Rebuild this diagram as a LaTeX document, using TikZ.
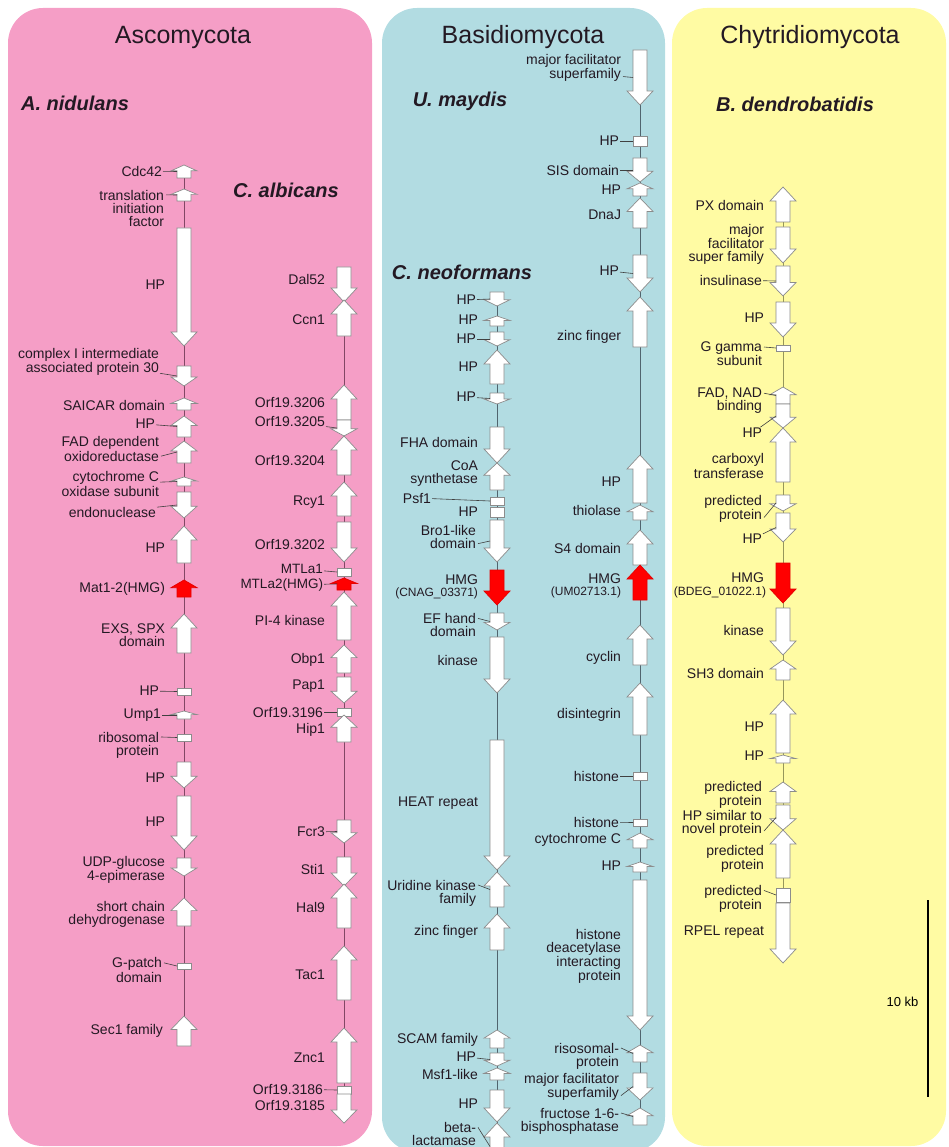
\documentclass[tikz,border=0pt]{standalone}
\usepackage{fontspec}
\setmainfont{Liberation Sans}

\definecolor{pinkbg}{RGB}{245,158,198}
\definecolor{bluebg}{RGB}{178,220,226}
\definecolor{yellowbg}{RGB}{255,251,163}
\definecolor{pinkline}{RGB}{130,70,100}
\definecolor{blueline}{RGB}{80,100,110}
\definecolor{yellowline}{RGB}{150,150,90}
\definecolor{labtext}{RGB}{35,25,35}

% gene arrow: name, axis x, top, bottom, direction (u/d/n), style
\newcommand{\genearrow}[6]{%
  \pgfmathsetmacro{\ghead}{min(14,0.45*(#4-#3))}%
  \if#5u%
    \draw[#6] (#2-7,#4) -- (#2-7,#3+\ghead) -- (#2-13,#3+\ghead) -- (#2,#3) -- (#2+13,#3+\ghead) -- (#2+7,#3+\ghead) -- (#2+7,#4) -- cycle;%
  \else\if#5d%
    \draw[#6] (#2-7,#3) -- (#2-7,#4-\ghead) -- (#2-13,#4-\ghead) -- (#2,#4) -- (#2+13,#4-\ghead) -- (#2+7,#4-\ghead) -- (#2+7,#3) -- cycle;%
  \else
    \draw[#6] (#2-7,#3) rectangle (#2+7,#4);%
  \fi\fi
  \coordinate (#1) at (#2-7,{(#3+#4)/2});%
}

\begin{document}
\begin{tikzpicture}[x=1pt, y=-1pt,
    gene/.style={draw=black!45, fill=white, line width=0.7pt},
    hmg/.style={draw=red!90!black, fill=red, line width=0.7pt},
    lab/.style={anchor=east, align=right, inner sep=0.8pt, text=labtext, font=\fontsize{14}{13}\selectfont},
    smalllab/.style={lab, font=\fontsize{12}{12}\selectfont},
    lead/.style={draw=black!75, line width=0.6pt},
    phylum/.style={font=\fontsize{25}{25}\selectfont, text=labtext},
    species/.style={font=\fontsize{20}{20}\selectfont\bfseries\itshape, text=labtext},
    chrom/.style={line width=0.9pt}]
    \useasboundingbox (0,0) rectangle (949,1147);

    % Panels
    \fill[pinkbg, rounded corners=35pt] (8,8) rectangle (372,1146);
    \fill[bluebg, rounded corners=35pt] (382,8) rectangle (665,1152);
    \fill[yellowbg, rounded corners=35pt] (672,8) rectangle (946,1146);

    % Titles
    \node[phylum] (asco) at (183,37) {Ascomycota};
    \node[phylum] (basidio) at (523,37) {Basidiomycota};
    \node[phylum] (chytrid) at (810,37) {Chytridiomycota};
    \node[species] (anid) at (75,103) {A. nidulans};
    \node[species] (calb) at (286,190) {C. albicans};
    \node[species] (umay) at (460,101) {U. maydis};
    \node[species] (cneo) at (462,272) {C. neoformans};
    \node[species] (bden) at (795,104) {B. dendrobatidis};

    % Chromosomes
    \coordinate (antop) at (184,165); \coordinate (anbot) at (184,1046);
    \coordinate (catop) at (344,267); \coordinate (cabot) at (344,1123);
    \coordinate (cntop) at (497,292); \coordinate (cnbot) at (497,1147);
    \coordinate (umtop) at (640,50);  \coordinate (umbot) at (640,1125);
    \coordinate (bdtop) at (783,187); \coordinate (bdbot) at (783,963);
    \draw[chrom, pinkline] (antop) -- (anbot);
    \draw[chrom, pinkline] (catop) -- (cabot);
    \draw[chrom, blueline] (cntop) -- (cnbot);
    \draw[chrom, blueline] (umtop) -- (umbot);
    \draw[chrom, yellowline] (bdtop) -- (bdbot);

    % A. nidulans
    \genearrow{an1}{184}{165}{178}{u}{gene}
    \genearrow{an2}{184}{189}{201}{u}{gene}
    \genearrow{an3}{184}{228}{346}{d}{gene}
    \genearrow{an4}{184}{366}{386}{d}{gene}
    \genearrow{an5}{184}{398}{410}{u}{gene}
    \genearrow{an6}{184}{416}{437}{u}{gene}
    \genearrow{an7}{184}{441}{463}{u}{gene}
    \genearrow{an8}{184}{477}{486}{u}{gene}
    \genearrow{an9}{184}{492}{518}{d}{gene}
    \genearrow{an10}{184}{526}{563}{u}{gene}
    \genearrow{an11}{184}{580}{597}{u}{hmg}
    \genearrow{an12}{184}{614}{653}{u}{gene}
    \genearrow{an13}{184}{688}{695}{n}{gene}
    \genearrow{an14}{184}{711}{719}{u}{gene}
    \genearrow{an15}{184}{734}{741}{n}{gene}
    \genearrow{an16}{184}{762}{788}{d}{gene}
    \genearrow{an17}{184}{796}{850}{d}{gene}
    \genearrow{an18}{184}{858}{876}{d}{gene}
    \genearrow{an19}{184}{898}{926}{u}{gene}
    \genearrow{an20}{184}{963}{969}{n}{gene}
    \genearrow{an21}{184}{1016}{1046}{u}{gene}

    \node[lab] (an1l) at (163,171) {Cdc42};
    \node[lab] (an2l) at (165,208) {translation\\initiation\\factor};
    \node[lab] (an3l) at (166,285) {HP};
    \node[lab] (an4l) at (160,362) {complex I intermediate\\associated protein 30};
    \node[lab] (an5l) at (166,405) {SAICAR domain};
    \node[lab] (an6l) at (156,424) {HP};
    \node[lab] (an7l) at (160,449) {FAD dependent\\oxidoreductase};
    \node[lab] (an8l) at (160,484) {cytochrome C\\oxidase subunit};
    \node[lab] (an9l) at (157,512) {endonuclease};
    \node[lab] (an10l) at (166,548) {HP};
    \node[lab] (an11l) at (166,589) {Mat1-2(HMG)};
    \node[lab] (an12l) at (166,635) {EXS, SPX\\domain};
    \node[lab] (an13l) at (160,691) {HP};
    \node[lab] (an14l) at (162,715) {Ump1};
    \node[lab] (an15l) at (160,745) {ribosomal\\protein};
    \node[lab] (an16l) at (166,778) {HP};
    \node[lab] (an17l) at (166,822) {HP};
    \node[lab] (an18l) at (166,870) {UDP-glucose\\4-epimerase};
    \node[lab] (an19l) at (166,914) {short chain\\dehydrogenase};
    \node[lab] (an20l) at (163,970) {G-patch\\domain};
    \node[lab] (an21l) at (164,1031) {Sec1 family};

    \draw[lead] (an1l) -- (an1);
    \draw[lead] (an2l.north east) ++(1,6) -- (an2);
    \draw[lead] (an4l) -- (an4);
    \draw[lead] (an6l) -- (an6);
    \draw[lead] (an7l.south east) ++(1,-6) -- (an7);
    \draw[lead] (an8l) -- (an8);
    \draw[lead] (an9l) -- (an9);
    \draw[lead] (an13l) -- (an13);
    \draw[lead] (an14l) -- (an14);
    \draw[lead] (an15l.north east) ++(1,6) -- (an15);
    \draw[lead] (an20l.north east) ++(1,6) -- (an20);

    % C. albicans
    \genearrow{ca1}{344}{267}{302}{d}{gene}
    \genearrow{ca2}{344}{300}{336}{u}{gene}
    \genearrow{ca3}{344}{385}{420}{u}{gene}
    \genearrow{ca4}{344}{420}{436}{d}{gene}
    \genearrow{ca5}{344}{436}{475}{u}{gene}
    \genearrow{ca6}{344}{482}{516}{u}{gene}
    \genearrow{ca7}{344}{522}{562}{d}{gene}
    \genearrow{ca8}{344}{568}{576}{n}{gene}
    \genearrow{ca9}{344}{578}{590}{u}{hmg}
    \genearrow{ca10}{344}{592}{640}{u}{gene}
    \genearrow{ca11}{344}{645}{673}{u}{gene}
    \genearrow{ca12}{344}{677}{703}{d}{gene}
    \genearrow{ca13}{344}{708}{716}{n}{gene}
    \genearrow{ca14}{344}{715}{742}{u}{gene}
    \genearrow{ca15}{344}{820}{843}{d}{gene}
    \genearrow{ca16}{344}{857}{886}{d}{gene}
    \genearrow{ca17}{344}{884}{928}{u}{gene}
    \genearrow{ca18}{344}{946}{1000}{u}{gene}
    \genearrow{ca19}{344}{1028}{1083}{u}{gene}
    \genearrow{ca20}{344}{1086}{1094}{n}{gene}
    \genearrow{ca21}{344}{1094}{1123}{d}{gene}

    \node[lab] (ca1l) at (326,279) {Dal52};
    \node[lab] (ca2l) at (326,320) {Ccn1};
    \node[lab] (ca3l) at (326,403) {Orf19.3206};
    \node[lab] (ca4l) at (326,422) {Orf19.3205};
    \node[lab] (ca5l) at (326,460) {Orf19.3204};
    \node[lab] (ca6l) at (326,502) {Rcy1};
    \node[lab] (ca7l) at (326,544) {Orf19.3202};
    \node[lab, font=\fontsize{13.5}{13}\selectfont] (ca8l) at (324,569) {MTLa1};
    \node[lab, font=\fontsize{13.5}{13}\selectfont] (ca9l) at (324,585) {MTLa2(HMG)};
    \node[lab] (ca10l) at (326,620) {PI-4 kinase};
    \node[lab] (ca11l) at (326,660) {Obp1};
    \node[lab] (ca12l) at (326,686) {Pap1};
    \node[lab] (ca13l) at (324,712) {Orf19.3196};
    \node[lab] (ca14l) at (326,730) {Hip1};
    \node[lab] (ca15l) at (326,832) {Fcr3};
    \node[lab] (ca16l) at (326,869) {Sti1};
    \node[lab] (ca17l) at (326,907) {Hal9};
    \node[lab] (ca18l) at (326,975) {Tac1};
    \node[lab] (ca19l) at (326,1058) {Znc1};
    \node[lab] (ca20l) at (324,1089) {Orf19.3186};
    \node[lab] (ca21l) at (326,1105) {Orf19.3185};

    \draw[lead] (ca4l) -- (ca4);
    \draw[lead] (ca8l) -- (ca8);
    \draw[lead] (ca9l) -- (ca9);
    \draw[lead] (ca13l) -- (ca13);
    \draw[lead] (ca15l) -- (ca15);
    \draw[lead] (ca20l) -- (ca20);

    % C. neoformans
    \genearrow{cn1}{497}{292}{306}{d}{gene}
    \genearrow{cn2}{497}{316}{326}{u}{gene}
    \genearrow{cn3}{497}{332}{346}{d}{gene}
    \genearrow{cn4}{497}{350}{384}{u}{gene}
    \genearrow{cn5}{497}{393}{404}{d}{gene}
    \genearrow{cn6}{497}{427}{463}{d}{gene}
    \genearrow{cn7}{497}{463}{490}{u}{gene}
    \genearrow{cn8}{497}{497}{505}{n}{gene}
    \genearrow{cn9}{497}{507}{517}{n}{gene}
    \genearrow{cn10}{497}{520}{562}{d}{gene}
    \genearrow{cn11}{497}{570}{605}{d}{hmg}
    \genearrow{cn12}{497}{613}{630}{d}{gene}
    \genearrow{cn13}{497}{637}{693}{d}{gene}
    \genearrow{cn14}{497}{740}{870}{d}{gene}
    \genearrow{cn15}{497}{872}{907}{u}{gene}
    \genearrow{cn16}{497}{914}{950}{u}{gene}
    \genearrow{cn17}{497}{1030}{1048}{u}{gene}
    \genearrow{cn18}{497}{1053}{1066}{d}{gene}
    \genearrow{cn19}{497}{1068}{1080}{u}{gene}
    \genearrow{cn20}{497}{1090}{1122}{d}{gene}
    \genearrow{cn21}{497}{1123}{1170}{u}{gene}

    \node[lab] (cn1l) at (477,300) {HP};
    \node[lab] (cn2l) at (479,320) {HP};
    \node[lab] (cn3l) at (477,339) {HP};
    \node[lab] (cn4l) at (479,367) {HP};
    \node[lab] (cn5l) at (477,397) {HP};
    \node[lab] (cn6l) at (479,442) {FHA domain};
    \node[lab] (cn7l) at (479,474) {CoA\\synthetase};
    \node[lab] (cn8l) at (432,498) {Psf1};
    \node[lab] (cn9l) at (479,512) {HP};
    \node[lab] (cn10l) at (477,537) {Bro1-like\\domain};
    \node[lab] (cn11l) at (479,580) {HMG};
    \node[smalllab] (cn11id) at (479,593) {(CNAG\_03371)};
    \node[lab] (cn12l) at (477,625) {EF hand\\domain};
    \node[lab] (cn13l) at (479,660) {kinase};
    \node[lab] (cn14l) at (479,803) {HEAT repeat};
    \node[lab] (cn15l) at (477,893) {Uridine kinase\\family};
    \node[lab] (cn16l) at (479,932) {zinc finger};
    \node[lab] (cn17l) at (479,1040) {SCAM family};
    \node[lab] (cn18l) at (477,1057) {HP};
    \node[lab] (cn19l) at (479,1074) {Msf1-like};
    \node[lab] (cn20l) at (479,1104) {HP};
    \node[lab] (cn21l) at (477,1134) {beta-\\lactamase};

    \draw[lead] (cn1l) -- (cn1);
    \draw[lead] (cn3l) -- (cn3);
    \draw[lead] (cn5l) -- (cn5);
    \draw[lead] (cn8l) -- (cn8);
    \draw[lead] (cn10l.south east) ++(1,-6) -- (cn10);
    \draw[lead] (cn12l.north east) ++(1,6) -- (cn12);
    \draw[lead] (cn15l.north east) ++(1,6) -- (cn15);
    \draw[lead] (cn18l) -- (cn18);
    \draw[lead] (cn21l.north east) ++(1,6) -- (cn21);

    % U. maydis
    \genearrow{um1}{640}{50}{105}{d}{gene}
    \genearrow{um2}{640}{136}{146}{n}{gene}
    \genearrow{um3}{640}{158}{182}{d}{gene}
    \genearrow{um4}{640}{183}{196}{u}{gene}
    \genearrow{um5}{640}{198}{228}{u}{gene}
    \genearrow{um6}{640}{255}{292}{d}{gene}
    \genearrow{um7}{640}{297}{347}{u}{gene}
    \genearrow{um8}{640}{455}{503}{u}{gene}
    \genearrow{um9}{640}{505}{520}{u}{gene}
    \genearrow{um10}{640}{530}{565}{u}{gene}
    \genearrow{um11}{640}{565}{600}{u}{hmg}
    \genearrow{um12}{640}{625}{665}{u}{gene}
    \genearrow{um13}{640}{683}{735}{u}{gene}
    \genearrow{um14}{640}{772}{780}{n}{gene}
    \genearrow{um15}{640}{819}{826}{n}{gene}
    \genearrow{um16}{640}{833}{848}{u}{gene}
    \genearrow{um17}{640}{862}{872}{u}{gene}
    \genearrow{um18}{640}{880}{1030}{d}{gene}
    \genearrow{um19}{640}{1045}{1062}{u}{gene}
    \genearrow{um20}{640}{1073}{1100}{d}{gene}
    \genearrow{um21}{640}{1108}{1125}{u}{gene}

    \node[lab] (um1l) at (622,68) {major facilitator\\superfamily};
    \node[lab] (um2l) at (620,141) {HP};
    \node[lab] (um3l) at (620,170) {SIS domain};
    \node[lab] (um4l) at (622,190) {HP};
    \node[lab] (um5l) at (622,215) {DnaJ};
    \node[lab] (um6l) at (620,271) {HP};
    \node[lab] (um7l) at (622,337) {zinc finger};
    \node[lab] (um8l) at (622,482) {HP};
    \node[lab] (um9l) at (622,510) {thiolase};
    \node[lab] (um10l) at (622,548) {S4 domain};
    \node[lab] (um11l) at (622,579) {HMG};
    \node[smalllab] (um11id) at (622,592) {(UM02713.1)};
    \node[lab] (um12l) at (622,658) {cyclin};
    \node[lab] (um13l) at (622,715) {disintegrin};
    \node[lab] (um14l) at (620,776) {histone};
    \node[lab] (um15l) at (620,822) {histone};
    \node[lab] (um16l) at (622,840) {cytochrome C};
    \node[lab] (um17l) at (622,866) {HP};
    \node[lab] (um18l) at (622,956) {histone\\deacetylase\\interacting\\protein};
    \node[lab] (um19l) at (620,1056) {risosomal-\\protein};
    \node[lab] (um20l) at (620,1087) {major facilitator\\superfamily};
    \node[lab] (um21l) at (620,1121) {fructose 1-6-\\bisphosphatase};

    \draw[lead] (um1l.south east) ++(1,-6) -- (um1);
    \draw[lead] (um2l) -- (um2);
    \draw[lead] (um3l) -- (um3);
    \draw[lead] (um6l) -- (um6);
    \draw[lead] (um14l) -- (um14);
    \draw[lead] (um15l) -- (um15);
    \draw[lead] (um19l.north east) ++(1,6) -- (um19);
    \draw[lead] (um20l.south east) ++(1,-6) -- (um20);
    \draw[lead] (um21l.north east) ++(1,6) -- (um21);

    % B. dendrobatidis
    \genearrow{bd1}{783}{187}{222}{u}{gene}
    \genearrow{bd2}{783}{227}{263}{d}{gene}
    \genearrow{bd3}{783}{266}{296}{d}{gene}
    \genearrow{bd4}{783}{302}{337}{d}{gene}
    \genearrow{bd5}{783}{345}{351}{n}{gene}
    \genearrow{bd6}{783}{387}{404}{u}{gene}
    \genearrow{bd7}{783}{404}{428}{d}{gene}
    \genearrow{bd8}{783}{428}{482}{u}{gene}
    \genearrow{bd9}{783}{495}{511}{d}{gene}
    \genearrow{bd10}{783}{513}{542}{d}{gene}
    \genearrow{bd11}{783}{563}{603}{d}{hmg}
    \genearrow{bd12}{783}{608}{655}{d}{gene}
    \genearrow{bd13}{783}{660}{680}{u}{gene}
    \genearrow{bd14}{783}{700}{753}{u}{gene}
    \genearrow{bd15}{783}{755}{763}{u}{gene}
    \genearrow{bd16}{783}{782}{803}{u}{gene}
    \genearrow{bd17}{783}{805}{830}{d}{gene}
    \genearrow{bd18}{783}{830}{878}{u}{gene}
    \genearrow{bd19}{783}{888}{902}{n}{gene}
    \genearrow{bd20}{783}{903}{963}{d}{gene}

    \node[lab] (bd1l) at (765,205) {PX domain};
    \node[lab] (bd2l) at (765,244) {major\\facilitator\\super family};
    \node[lab] (bd3l) at (763,280) {insulinase};
    \node[lab] (bd4l) at (765,318) {HP};
    \node[lab] (bd5l) at (763,354) {G gamma\\subunit};
    \node[lab] (bd6l) at (763,401) {FAD, NAD\\binding};
    \node[lab] (bd7l) at (763,433) {HP};
    \node[lab] (bd8l) at (765,466) {carboxyl\\transferase};
    \node[lab] (bd9l) at (763,509) {predicted\\protein};
    \node[lab] (bd10l) at (763,539) {HP};
    \node[lab] (bd11l) at (765,578) {HMG};
    \node[smalllab] (bd11id) at (767,592) {(BDEG\_01022.1)};
    \node[lab] (bd12l) at (765,630) {kinase};
    \node[lab] (bd13l) at (765,673) {SH3 domain};
    \node[lab] (bd14l) at (765,727) {HP};
    \node[lab] (bd15l) at (765,756) {HP};
    \node[lab] (bd16l) at (763,795) {predicted\\protein};
    \node[lab] (bd17l) at (763,823) {HP similar to\\novel protein};
    \node[lab] (bd18l) at (765,859) {predicted\\protein};
    \node[lab] (bd19l) at (763,899) {predicted\\protein};
    \node[lab] (bd20l) at (765,932) {RPEL repeat};

    \draw[lead] (bd3l) -- (bd3);
    \draw[lead] (bd5l.north east) ++(1,6) -- (bd5);
    \draw[lead] (bd6l.north east) ++(1,6) -- (bd6);
    \draw[lead] (bd7l) -- (bd7);
    \draw[lead] (bd9l.south east) ++(1,-6) -- (bd9);
    \draw[lead] (bd10l) -- (bd10);
    \draw[lead] (bd17l.south east) ++(1,-6) -- (bd17);
    \draw[lead] (bd19l.north east) ++(1,6) -- (bd19);

    % Scale bar
    \coordinate (sbtop) at (928,900);
    \coordinate (sbbot) at (928,1097);
    \draw[line width=2pt, black] (sbtop) -- (sbbot);
    \node[font=\fontsize{13}{13}\selectfont, anchor=east] (sblab) at (922,1002) {10 kb};
\end{tikzpicture}
\end{document}
